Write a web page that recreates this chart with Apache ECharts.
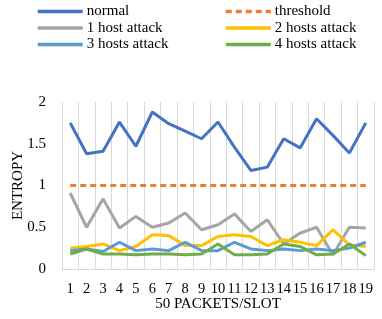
<!DOCTYPE html>
<html><head><meta charset="utf-8">
<script src="https://cdn.jsdelivr.net/npm/echarts@6/dist/echarts.min.js"></script>
<style>html,body{margin:0;padding:0;background:#fff}#c{width:382px;height:319px}</style>
</head><body><div id="c"></div>
<script>
const categories = ['1','2','3','4','5','6','7','8','9','10','11','12','13','14','15','16','17','18','19'];
const normal    = [1.75,1.38,1.41,1.76,1.47,1.88,1.74,1.65,1.56,1.76,1.46,1.18,1.22,1.56,1.45,1.80,1.60,1.39,1.75];
const threshold = [1,1,1,1,1,1,1,1,1,1,1,1,1,1,1,1,1,1,1];
const host1     = [0.91,0.50,0.84,0.49,0.63,0.50,0.55,0.67,0.47,0.53,0.66,0.45,0.59,0.30,0.43,0.50,0.17,0.50,0.49];
const host2     = [0.25,0.27,0.30,0.22,0.27,0.41,0.40,0.28,0.28,0.39,0.41,0.39,0.28,0.35,0.32,0.28,0.47,0.29,0.27];
const host3     = [0.22,0.24,0.21,0.32,0.22,0.24,0.22,0.32,0.22,0.22,0.32,0.24,0.22,0.24,0.22,0.24,0.22,0.25,0.32];
const host4     = [0.18,0.24,0.18,0.18,0.17,0.18,0.18,0.17,0.18,0.30,0.17,0.17,0.18,0.30,0.27,0.17,0.18,0.30,0.16];
const yTicks = [0, 0.5, 1, 1.5, 2];

const font = 'Liberation Serif';
function line(name, data, color, dashed) {
  return { name, type: 'line', data, symbol: 'none', smooth: false,
    lineStyle: { color, width: 3, type: dashed ? [6, 4] : 'solid', cap: 'butt' },
    itemStyle: { color }, animation: false };
}
const chart = echarts.init(document.getElementById('c'), null, { renderer: 'canvas' });
const legendCommon = { orient: 'vertical', top: 4, itemWidth: 45, itemHeight: 14, itemGap: 1.5,
  itemStyle: { opacity: 0 },
  lineStyle: { width: 3.5 },
  textStyle: { fontFamily: font, fontSize: 15, color: '#000', padding: [0,0,0,-1] }, padding: 0 };
chart.setOption({
  animation: false,
  legend: [
    Object.assign({ left: 36, data: ['normal', '1 host attack', '3 hosts attack'] }, legendCommon),
    Object.assign({ left: 224, data: ['threshold', '2 hosts attack', '4 hosts attack'] }, legendCommon)
  ],
  grid: { left: 62, right: 8, top: 102, bottom: 50, containLabel: false, outerBoundsMode: 'none' },
  xAxis: { type: 'category', data: categories, boundaryGap: true,
    name: '50 PACKETS/SLOT', nameLocation: 'middle', nameGap: 28, nameMoveOverlap: false,
    nameTextStyle: { fontFamily: font, fontSize: 15, color: '#000' },
    axisLine: { lineStyle: { color: '#d9d9d9', width: 1 } },
    axisTick: { show: false },
    axisLabel: { interval: 0, fontFamily: font, fontSize: 14.5, color: '#000', margin: 13 },
    splitLine: { show: true, lineStyle: { color: '#d9d9d9', width: 1 } } },
  yAxis: { type: 'value', min: 0, max: 2, interval: 0.5,
    name: 'ENTROPY', nameLocation: 'middle', nameGap: 36, nameRotate: 90, nameMoveOverlap: false,
    nameTextStyle: { fontFamily: font, fontSize: 15, color: '#000' },
    axisLine: { show: false }, axisTick: { show: false }, splitLine: { show: false },
    axisLabel: { fontFamily: font, fontSize: 15, color: '#000', margin: 16,
      formatter: v => yTicks.includes(v) ? String(v) : '' } },
  series: [
    line('normal', normal, '#4472C4'),
    line('threshold', threshold, '#ED7D31', true),
    line('1 host attack', host1, '#A5A5A5'),
    line('2 hosts attack', host2, '#FFC000'),
    line('3 hosts attack', host3, '#5B9BD5'),
    line('4 hosts attack', host4, '#70AD47')
  ]
});
</script></body></html>
